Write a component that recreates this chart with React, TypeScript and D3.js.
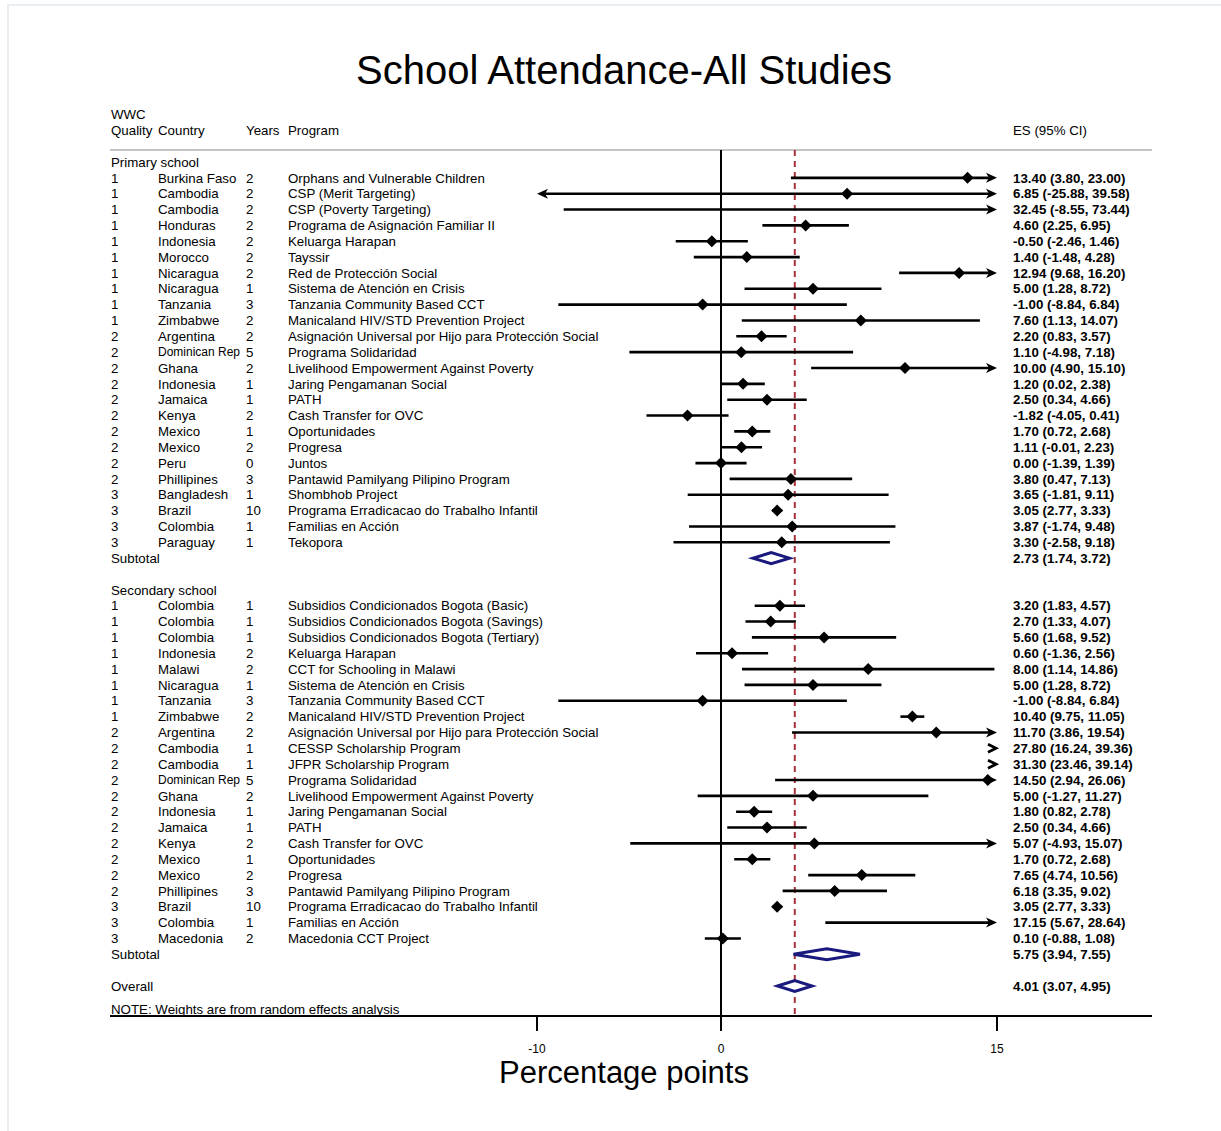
import React from "react";
import * as d3 from "d3";

// ---- Data ----
const primaryQuality = [1, 1, 1, 1, 1, 1, 1, 1, 1, 1, 2, 2, 2, 2, 2, 2, 2, 2, 2, 2, 3, 3, 3, 3];
const primaryCountry = ["Burkina Faso", "Cambodia", "Cambodia", "Honduras", "Indonesia", "Morocco", "Nicaragua", "Nicaragua", "Tanzania", "Zimbabwe", "Argentina", "Dominican Rep", "Ghana", "Indonesia", "Jamaica", "Kenya", "Mexico", "Mexico", "Peru", "Phillipines", "Bangladesh", "Brazil", "Colombia", "Paraguay"];
const primaryYears = [2, 2, 2, 2, 2, 2, 2, 1, 3, 2, 2, 5, 2, 1, 1, 2, 1, 2, 0, 3, 1, 10, 1, 1];
const primaryProgram = ["Orphans and Vulnerable Children", "CSP (Merit Targeting)", "CSP (Poverty Targeting)", "Programa de Asignación Familiar II", "Keluarga Harapan", "Tayssir", "Red de Protección Social", "Sistema de Atención en Crisis", "Tanzania Community Based CCT", "Manicaland HIV/STD Prevention Project", "Asignación Universal por Hijo para Protección Social", "Programa Solidaridad", "Livelihood Empowerment Against Poverty", "Jaring Pengamanan Social", "PATH", "Cash Transfer for OVC", "Oportunidades", "Progresa", "Juntos", "Pantawid Pamilyang Pilipino Program", "Shombhob Project", "Programa Erradicacao do Trabalho Infantil", "Familias en Acción", "Tekopora"];
const primaryES = [13.40, 6.85, 32.45, 4.60, -0.50, 1.40, 12.94, 5.00, -1.00, 7.60, 2.20, 1.10, 10.00, 1.20, 2.50, -1.82, 1.70, 1.11, 0.00, 3.80, 3.65, 3.05, 3.87, 3.30];
const primaryLo = [3.80, -25.88, -8.55, 2.25, -2.46, -1.48, 9.68, 1.28, -8.84, 1.13, 0.83, -4.98, 4.90, 0.02, 0.34, -4.05, 0.72, -0.01, -1.39, 0.47, -1.81, 2.77, -1.74, -2.58];
const primaryHi = [23.00, 39.58, 73.44, 6.95, 1.46, 4.28, 16.20, 8.72, 6.84, 14.07, 3.57, 7.18, 15.10, 2.38, 4.66, 0.41, 2.68, 2.23, 1.39, 7.13, 9.11, 3.33, 9.48, 9.18];
const primarySubtotal = [2.73, 1.74, 3.72];

const secondaryQuality = [1, 1, 1, 1, 1, 1, 1, 1, 2, 2, 2, 2, 2, 2, 2, 2, 2, 2, 2, 3, 3, 3];
const secondaryCountry = ["Colombia", "Colombia", "Colombia", "Indonesia", "Malawi", "Nicaragua", "Tanzania", "Zimbabwe", "Argentina", "Cambodia", "Cambodia", "Dominican Rep", "Ghana", "Indonesia", "Jamaica", "Kenya", "Mexico", "Mexico", "Phillipines", "Brazil", "Colombia", "Macedonia"];
const secondaryYears = [1, 1, 1, 2, 2, 1, 3, 2, 2, 1, 1, 5, 2, 1, 1, 2, 1, 2, 3, 10, 1, 2];
const secondaryProgram = ["Subsidios Condicionados Bogota (Basic)", "Subsidios Condicionados Bogota (Savings)", "Subsidios Condicionados Bogota (Tertiary)", "Keluarga Harapan", "CCT for Schooling in Malawi", "Sistema de Atención en Crisis", "Tanzania Community Based CCT", "Manicaland HIV/STD Prevention Project", "Asignación Universal por Hijo para Protección Social", "CESSP Scholarship Program", "JFPR Scholarship Program", "Programa Solidaridad", "Livelihood Empowerment Against Poverty", "Jaring Pengamanan Social", "PATH", "Cash Transfer for OVC", "Oportunidades", "Progresa", "Pantawid Pamilyang Pilipino Program", "Programa Erradicacao do Trabalho Infantil", "Familias en Acción", "Macedonia CCT Project"];
const secondaryES = [3.20, 2.70, 5.60, 0.60, 8.00, 5.00, -1.00, 10.40, 11.70, 27.80, 31.30, 14.50, 5.00, 1.80, 2.50, 5.07, 1.70, 7.65, 6.18, 3.05, 17.15, 0.10];
const secondaryLo = [1.83, 1.33, 1.68, -1.36, 1.14, 1.28, -8.84, 9.75, 3.86, 16.24, 23.46, 2.94, -1.27, 0.82, 0.34, -4.93, 0.72, 4.74, 3.35, 2.77, 5.67, -0.88];
const secondaryHi = [4.57, 4.07, 9.52, 2.56, 14.86, 8.72, 6.84, 11.05, 19.54, 39.36, 39.14, 26.06, 11.27, 2.78, 4.66, 15.07, 2.68, 10.56, 9.02, 3.33, 28.64, 1.08];
const secondarySubtotal = [5.75, 3.94, 7.55];

const overall = [4.01, 3.07, 4.95];
const xTicks = [-10, 0, 15];
const xDomain = [-10, 15];

// ---- Layout ----
const W = 1221;
const H = 1131;
const FONT = "'Liberation Sans', Arial, Helvetica, sans-serif";

const fmt = d3.formatLocale({ decimal: ".", thousands: ",", grouping: [3], currency: ["", ""], minus: "-" }).format(".2f");
const esLabel = (e: number, l: number, h: number) => `${fmt(e)} (${fmt(l)}, ${fmt(h)})`;

type Row =
  | { kind: "header"; text: string }
  | { kind: "study"; q: number; c: string; y: number; p: string; es: number; lo: number; hi: number }
  | { kind: "pooled"; text: string; es: number; lo: number; hi: number }
  | { kind: "blank" };

function buildRows(): Row[] {
  const rows: Row[] = [];
  rows.push({ kind: "header", text: "Primary school" });
  primaryES.forEach((e, i) =>
    rows.push({ kind: "study", q: primaryQuality[i], c: primaryCountry[i], y: primaryYears[i], p: primaryProgram[i], es: e, lo: primaryLo[i], hi: primaryHi[i] })
  );
  rows.push({ kind: "pooled", text: "Subtotal", es: primarySubtotal[0], lo: primarySubtotal[1], hi: primarySubtotal[2] });
  rows.push({ kind: "blank" });
  rows.push({ kind: "header", text: "Secondary school" });
  secondaryES.forEach((e, i) =>
    rows.push({ kind: "study", q: secondaryQuality[i], c: secondaryCountry[i], y: secondaryYears[i], p: secondaryProgram[i], es: e, lo: secondaryLo[i], hi: secondaryHi[i] })
  );
  rows.push({ kind: "pooled", text: "Subtotal", es: secondarySubtotal[0], lo: secondarySubtotal[1], hi: secondarySubtotal[2] });
  rows.push({ kind: "blank" });
  rows.push({ kind: "pooled", text: "Overall", es: overall[0], lo: overall[1], hi: overall[2] });
  return rows;
}

export default function App() {
  const rows = buildRows();
  const x = d3.scaleLinear().domain(xDomain).range([537, 997]);
  const y = d3.scaleLinear().domain([0, rows.length - 1]).range([162, 986]);
  const [xmin, xmax] = xDomain;
  const topLine = 150;
  const axisY = 1016;
  const fs = 13.3;

  const arrowR = (px: number, py: number) => `M${px},${py} L${px - 11},${py - 5} L${px - 8},${py} L${px - 11},${py + 5} Z`;
  const arrowL = (px: number, py: number) => `M${px},${py} L${px + 11},${py - 5} L${px + 8},${py} L${px + 11},${py + 5} Z`;
  const diamond = (px: number, py: number, r: number) => `M${px - r},${py} L${px},${py - r} L${px + r},${py} L${px},${py + r} Z`;

  return (
    <svg width={W} height={H} style={{ position: "absolute", left: 0, top: 0, background: "#fff" }} fontFamily={FONT}>
      <rect x={8} y={5} width={W} height={H} fill="#fff" stroke="#e8eef2" strokeWidth={2} />
      <text x={624} y={70} fontSize={40} textAnchor="middle" dominantBaseline="central" fill="#000">School Attendance-All Studies</text>

      {/* column headers */}
      <g fontSize={fs} fill="#000">
        <text x={111} y={114} dy="0.35em">WWC</text>
        <text x={111} y={130} dy="0.35em">Quality</text>
        <text x={158} y={130} dy="0.35em">Country</text>
        <text x={246} y={130} dy="0.35em">Years</text>
        <text x={288} y={130} dy="0.35em">Program</text>
        <text x={1013} y={130} dy="0.35em">ES (95% CI)</text>
      </g>
      <line x1={110} x2={1152} y1={topLine} y2={topLine} stroke="#c4c4c4" strokeWidth={2} />

      {/* reference lines */}
      <line x1={x(0)} x2={x(0)} y1={topLine} y2={axisY} stroke="#000" strokeWidth={2} />
      <line x1={x(overall[0])} x2={x(overall[0])} y1={topLine} y2={axisY} stroke="#a8303a" strokeWidth={2} strokeDasharray="6,5" />

      {rows.map((r, i) => {
        const py = y(i);
        if (r.kind === "blank") return null;
        if (r.kind === "header") {
          return <text key={i} x={111} y={py} dy="0.35em" fontSize={fs}>{r.text}</text>;
        }
        if (r.kind === "pooled") {
          const h = 5.5;
          const d = `M${x(r.lo)},${py} L${x(r.es)},${py - h} L${x(r.hi)},${py} L${x(r.es)},${py + h} Z`;
          return (
            <g key={i}>
              <text x={111} y={py} dy="0.35em" fontSize={fs}>{r.text}</text>
              <path d={d} fill="#fff" stroke="#1a1a7e" strokeWidth={3} strokeLinejoin="miter" />
              <text x={1013} y={py} dy="0.35em" fontSize={fs} fontWeight={600}>{esLabel(r.es, r.lo, r.hi)}</text>
            </g>
          );
        }
        const lo = Math.max(r.lo, xmin);
        const hi = Math.min(r.hi, xmax);
        const marks: React.ReactNode[] = [];
        if (r.lo > xmax) {
          const px = x(xmax);
          marks.push(<path key="chev" d={`M${px - 9},${py - 4} L${px - 1},${py} L${px - 9},${py + 4}`} fill="none" stroke="#000" strokeWidth={2.8} />);
        } else {
          const x1 = x(lo) + (r.lo < xmin ? 6 : 0);
          const x2 = x(hi) - (r.hi > xmax ? 6 : 0);
          marks.push(<line key="ci" x1={x1} x2={x2} y1={py} y2={py} stroke="#000" strokeWidth={2.6} />);
          if (r.hi > xmax) marks.push(<path key="ar" d={arrowR(x(xmax), py)} fill="#000" />);
          if (r.lo < xmin) marks.push(<path key="al" d={arrowL(x(xmin), py)} fill="#000" />);
          if (r.es >= xmin && r.es <= xmax) marks.push(<path key="pt" d={diamond(x(r.es), py, 6)} fill="#000" />);
        }
        const longCountry = r.c.length > 12;
        return (
          <g key={i}>
            <g fontSize={fs} fill="#000">
              <text x={111} y={py} dy="0.35em">{r.q}</text>
              <text x={158} y={py} dy="0.35em" fontSize={longCountry ? 12 : fs}>{r.c}</text>
              <text x={246} y={py} dy="0.35em">{r.y}</text>
              <text x={288} y={py} dy="0.35em">{r.p}</text>
              <text x={1013} y={py} dy="0.35em" fontWeight={600}>{esLabel(r.es, r.lo, r.hi)}</text>
            </g>
            {marks}
          </g>
        );
      })}

      <text x={111} y={1009} dy="0.35em" fontSize={fs}>NOTE: Weights are from random effects analysis</text>

      {/* axis */}
      <line x1={110} x2={1152} y1={axisY} y2={axisY} stroke="#000" strokeWidth={2} />
      {xTicks.map((t) => (
        <g key={t}>
          <line x1={x(t)} x2={x(t)} y1={axisY} y2={axisY + 15} stroke="#000" strokeWidth={2} />
          <text x={x(t)} y={1049} dy="0.35em" fontSize={12} textAnchor="middle">{t}</text>
        </g>
      ))}
      <text x={624} y={1072} fontSize={31} textAnchor="middle" dominantBaseline="central">Percentage points</text>
    </svg>
  );
}
